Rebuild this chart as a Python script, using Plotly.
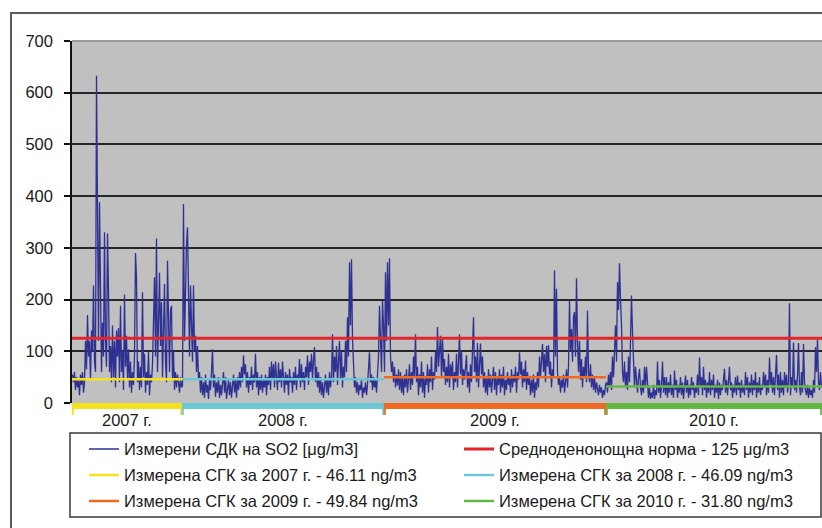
import plotly.graph_objects as go

# ---------------- data ----------------
years = ["2007 г.", "2008 г.", "2009 г.", "2010 г."]
year_means = [46.11, 46.09, 49.84, 31.80]
norm_value = 125

so2_2007 = [55, 40, 60, 25, 50, 30, 45, 15, 55, 35,
            60, 20, 40, 120, 65, 170, 90, 120, 45, 140,
            100, 227, 80, 60, 633, 327, 120, 388, 150, 60,
            155, 90, 330, 120, 70, 328, 217, 60, 110, 40,
            150, 50, 120, 30, 140, 90, 145, 40, 188, 60,
            100, 25, 210, 70, 130, 45, 104, 30, 80, 20,
            60, 35, 90, 290, 243, 40, 80, 25, 70, 30,
            214, 50, 95, 20, 60, 35, 100, 15, 55, 40,
            75, 145, 243, 90, 318, 60, 200, 252, 110, 195,
            50, 150, 230, 80, 40, 275, 120, 60, 180, 188,
            45, 100, 25, 60, 30, 55, 40, 20, 50, 30]

so2_2008 = [33, 385, 120, 246, 306, 340, 150, 90, 227, 110,
            80, 227, 100, 130, 60, 110, 45, 60, 20, 50,
            15, 40, 10, 55, 20, 35, 8, 45, 25, 60,
            104, 30, 55, 12, 40, 20, 50, 10, 35, 15,
            45, 60, 20, 50, 8, 30, 45, 15, 40, 10,
            35, 55, 20, 45, 10, 50, 25, 60, 30, 70,
            40, 92, 55, 75, 30, 60, 20, 50, 35, 70,
            25, 55, 40, 95, 30, 60, 15, 50, 25, 55,
            20, 45, 30, 55, 15, 50, 35, 70, 25, 80,
            45, 75, 30, 80, 50, 25, 78, 40, 65, 30,
            80, 45, 20, 60, 35, 55, 15, 66, 40, 50,
            20, 60, 35, 70, 25, 55, 45, 85, 30, 75,
            40, 60, 25, 70, 50, 92, 35, 80, 60, 95,
            45, 85, 108, 40, 70, 30, 60, 20, 50, 15,
            40, 10, 35, 55, 20, 45, 15, 60, 30, 50,
            133, 40, 90, 60, 110, 35, 80, 120, 45, 100,
            30, 70, 50, 120, 60, 166, 90, 272, 150, 278,
            124, 60, 30, 50, 20, 40, 15, 35, 25, 45,
            10, 30, 20, 40, 15, 35, 60, 98, 40, 55,
            25, 50, 30, 45, 20, 70, 90, 188, 120, 60, 198, 150]

so2_2009 = [60, 253, 120, 272, 150, 280, 90, 60, 80, 40,
            70, 30, 55, 34, 65, 25, 60, 20, 50, 15,
            55, 30, 65, 20, 45, 75, 25, 60, 35, 90,
            50, 133, 40, 70, 15, 55, 30, 80, 20, 60,
            10, 50, 35, 75, 20, 65, 40, 90, 25, 60,
            45, 100, 60, 147, 70, 95, 130, 50, 125, 60,
            85, 35, 70, 40, 95, 30, 75, 50, 80, 25,
            60, 40, 95, 30, 70, 133, 55, 100, 35, 65,
            45, 80, 92, 30, 60, 20, 75, 40, 110, 166,
            60, 90, 40, 116, 30, 70, 115, 55, 90, 30,
            60, 20, 50, 15, 65, 30, 55, 20, 45, 70,
            25, 60, 15, 50, 35, 65, 20, 55, 30, 70,
            15, 45, 25, 60, 35, 50, 20, 65, 30, 55,
            40, 70, 20, 60, 45, 98, 55, 80, 30, 65,
            40, 82, 25, 60, 35, 50, 15, 45, 20, 55,
            10, 40, 25, 60, 30, 90, 50, 85, 114, 60,
            95, 40, 110, 70, 112, 55, 80, 30, 65, 50,
            256, 90, 221, 60, 35, 50, 20, 45, 30, 55,
            20, 40, 65, 30, 70, 198, 100, 143, 80, 166,
            176, 90, 241, 120, 60, 120, 45, 85, 30, 70,
            50, 90, 40, 179, 60, 40, 75, 30, 55, 25,
            50, 20, 40, 27, 15, 35, 20, 30, 10, 25, 15, 35]

so2_2010 = [40, 20, 55, 30, 60, 25, 90, 50, 110, 150,
            80, 234, 180, 270, 200, 150, 60, 40, 80, 30,
            60, 25, 90, 40, 120, 208, 137, 60, 30, 70,
            40, 20, 50, 66, 30, 15, 45, 20, 70, 30,
            70, 25, 10, 30, 8, 20, 10, 35, 8, 25,
            15, 80, 20, 45, 10, 35, 80, 20, 50, 15,
            50, 10, 40, 20, 55, 15, 35, 10, 63, 25,
            45, 10, 35, 20, 50, 15, 40, 8, 30, 53,
            20, 45, 10, 35, 15, 50, 25, 40, 10, 30,
            20, 55, 15, 88, 30, 50, 15, 70, 25, 45,
            10, 40, 20, 60, 15, 45, 25, 55, 10, 35,
            20, 45, 8, 40, 15, 35, 25, 50, 66, 20,
            45, 15, 55, 70, 25, 40, 10, 35, 20, 50,
            15, 53, 25, 40, 10, 45, 20, 35, 15, 60,
            25, 50, 10, 40, 20, 55, 15, 45, 25, 60,
            10, 40, 20, 50, 15, 35, 25, 60, 30, 55,
            15, 45, 20, 88, 35, 60, 20, 50, 15, 60,
            93, 25, 55, 10, 60, 20, 45, 15, 60, 30,
            55, 20, 40, 193, 15, 50, 30, 117, 25, 45,
            20, 55, 116, 30, 15, 60, 20, 114, 40, 25,
            15, 35, 10, 30, 15, 25, 10, 45, 20, 108, 60, 124, 40, 25, 60, 30]

y_ticks = [0, 100, 200, 300, 400, 500, 600, 700]

legend_names = [
    "Измерени СДК на SO2 [μg/m3]",
    "Средноденонощна норма - 125 μg/m3",
    "Измерена СГК за 2007 г. - 46.11 ng/m3",
    "Измерена СГК за 2008 г. - 46.09 ng/m3",
    "Измерена СГК за 2009 г. - 49.84 ng/m3",
    "Измерена СГК за 2010 г. - 31.80 ng/m3",
]

# ---------------- styling ----------------
FONT = "Liberation Sans, Arial, sans-serif"
BLUE = "#2e3192"
RED = "#e3262b"
year_colors = ["#f3e31c", "#6cc8d6", "#f06a22", "#66b846"]

series_by_year = [so2_2007, so2_2008, so2_2009, so2_2010]
values = [v for ys in series_by_year for v in ys]
N = len(values)
xs = list(range(N))

# index ranges of each year
ranges = []
start = 0
for ys in series_by_year:
    ranges.append((start, start + len(ys) - 1))
    start += len(ys)

fig = go.Figure()

fig.add_trace(go.Scatter(x=xs, y=values, mode="lines", name=legend_names[0],
                         line=dict(color=BLUE, width=1.3), legend="legend"))
fig.add_trace(go.Scatter(x=[-0.5, N - 0.5], y=[norm_value, norm_value], mode="lines",
                         name=legend_names[1], line=dict(color=RED, width=3), legend="legend"))
legend_ids = ["legend2", "legend2", "legend3", "legend3"]
for k, ((a, b), m) in enumerate(zip(ranges, year_means)):
    fig.add_trace(go.Scatter(x=[a - 0.5, b + 0.5], y=[m, m], mode="lines",
                             name=legend_names[2 + k],
                             line=dict(color=year_colors[k], width=2.5),
                             legend=legend_ids[k]))

# geometry helpers (pixel -> paper)
L, R, T, B = 72, 0, 41, 125
W, H = 822, 528
pw = W - L - R
ph = H - T - B


def px_x(px):
    return (px - L) / pw


def px_y(py):
    return (H - B - py) / ph


shapes = []
annotations = []
px_per_unit = pw / N
for k, (a, b) in enumerate(ranges):
    x0 = a - 0.5
    x1 = b + 0.5
    c = year_colors[k]
    shapes.append(dict(type="line", xref="x", yref="paper", x0=x0, x1=x1,
                       y0=px_y(406), y1=px_y(406), line=dict(color=c, width=6)))
    for xe in (x0 + 0.8 / px_per_unit, x1 - 0.8 / px_per_unit):
        shapes.append(dict(type="line", xref="x", yref="paper", x0=xe, x1=xe,
                           y0=px_y(403), y1=px_y(415), line=dict(color=c, width=2)))
    annotations.append(dict(x=(x0 + x1) / 2, xref="x", y=px_y(420), yref="paper",
                            text=years[k], showarrow=False, xanchor="center", yanchor="middle",
                            font=dict(family=FONT, size=16.5, color="#1a1a1a")))

# plot area top border
shapes.append(dict(type="line", xref="paper", yref="paper", x0=0, x1=1, y0=1, y1=1,
                   line=dict(color="#9c9c9c", width=2)))
# outer frame
shapes.append(dict(type="rect", xref="paper", yref="paper",
                   x0=px_x(11), x1=px_x(840), y0=px_y(560), y1=px_y(13),
                   line=dict(color="#5a5a5a", width=2), fillcolor="rgba(0,0,0,0)"))
# legend box
shapes.append(dict(type="rect", xref="paper", yref="paper",
                   x0=px_x(70), x1=px_x(821), y0=px_y(517), y1=px_y(433),
                   line=dict(color="#3a3a3a", width=1.5), fillcolor="rgba(0,0,0,0)"))

leg_common = dict(orientation="h", xanchor="left", yanchor="top", x=px_x(84),
                  entrywidth=0.5, entrywidthmode="fraction", borderwidth=0,
                  bgcolor="rgba(0,0,0,0)", itemclick=False, itemdoubleclick=False,
                  font=dict(family=FONT, size=16.5, color="#1a1a1a"))
row_centers = [449, 475, 501]
item_h = 16.5 * 1.3 + 3
legs = {}
for name, rc in zip(["legend", "legend2", "legend3"], row_centers):
    top = rc - item_h / 2 - 5
    legs[name] = dict(leg_common, y=px_y(top))

fig.update_layout(
    width=W, height=H,
    margin=dict(l=L, r=R, t=T, b=B, autoexpand=False),
    paper_bgcolor="white",
    plot_bgcolor="#c0c0c0",
    font=dict(family=FONT, size=16.5, color="#1a1a1a"),
    showlegend=True,
    shapes=shapes,
    annotations=annotations,
    **legs,
)

fig.update_xaxes(range=[-0.5, N - 0.5], showgrid=False, zeroline=False, showline=False,
                 showticklabels=False, ticks="")
fig.update_yaxes(range=[0, 700], tickvals=y_ticks, showgrid=True, gridcolor="#262626",
                 gridwidth=1.5, zeroline=False, showline=True, linecolor="#111111",
                 linewidth=1.5, ticks="outside", ticklen=6, tickcolor="#111111",
                 tickwidth=1.5, ticklabelstandoff=8,
                 tickfont=dict(family=FONT, size=16.5, color="#1a1a1a"))

fig.write_html("out.html")
